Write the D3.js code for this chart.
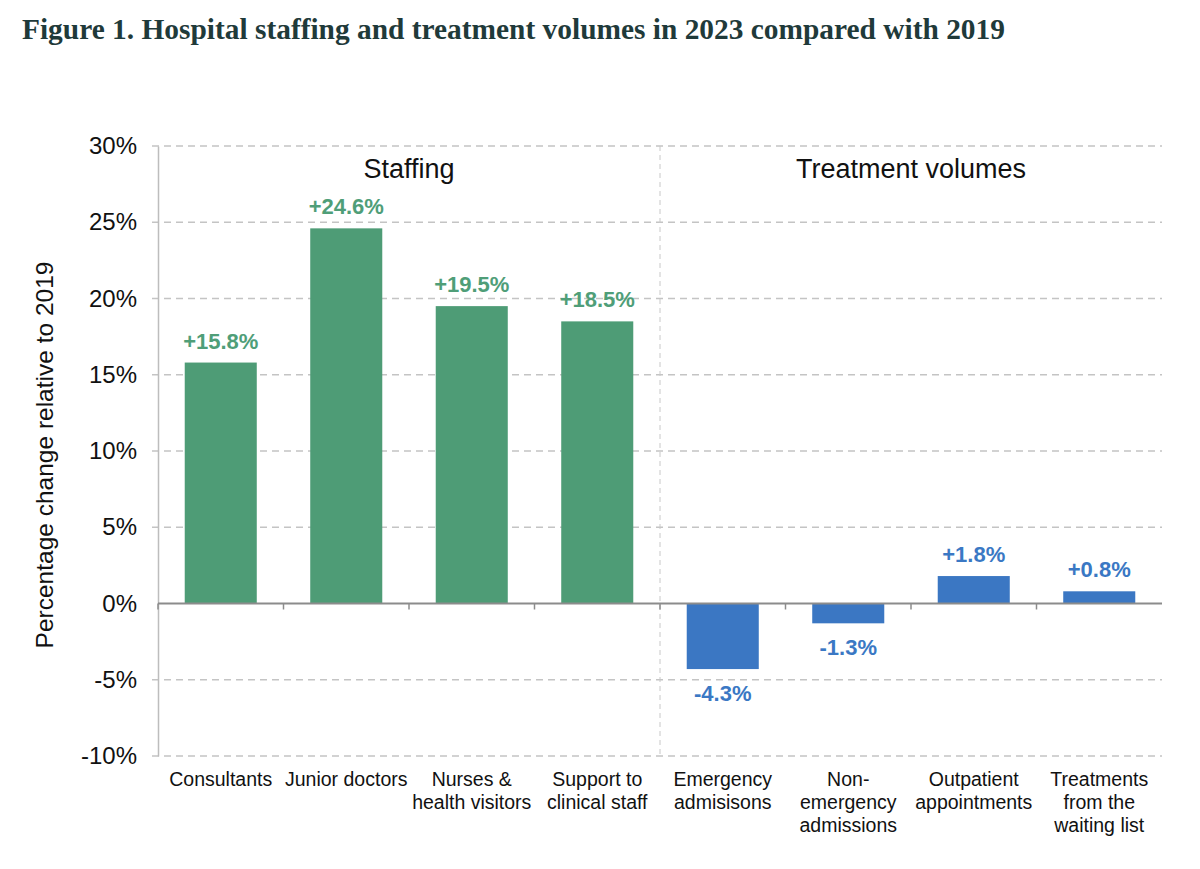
<!DOCTYPE html>
<html>
<head>
<meta charset="utf-8">
<script src="https://cdn.jsdelivr.net/npm/d3@7"></script>
<style>
  body { margin: 0; background: #fff; }
  svg { display: block; }
</style>
</head>
<body>
<svg id="chart"></svg>
<script>
// chart data
const categories = [
    ["Consultants"],
    ["Junior doctors"],
    ["Nurses &", "health visitors"],
    ["Support to", "clinical staff"],
    ["Emergency", "admisisons"],
    ["Non-", "emergency", "admissions"],
    ["Outpatient", "appointments"],
    ["Treatments", "from the", "waiting list"]
];
const values = [15.8, 24.6, 19.5, 18.5, -4.3, -1.3, 1.8, 0.8];
const groups = ["Staffing", "Staffing", "Staffing", "Staffing",
                "Treatment volumes", "Treatment volumes", "Treatment volumes", "Treatment volumes"];
const yTicks = [30, 25, 20, 15, 10, 5, 0, -5, -10];

const width = 1200;
const height = 869;
const margin = { top: 146, right: 38, bottom: 113, left: 158 };

const barColor = { "Staffing": "#4e9c76", "Treatment volumes": "#3b77c3" };
const labelColor = { "Staffing": "#4f9e78", "Treatment volumes": "#3a78c4" };

const svg = d3.select("#chart")
    .attr("width", width)
    .attr("height", height);

// title
svg.append("text")
    .attr("x", 22)
    .attr("y", 39)
    .attr("font-family", "'Liberation Serif', 'Times New Roman', serif")
    .attr("font-weight", "bold")
    .attr("font-size", "29.4px")
    .attr("fill", "#1f3a3a")
    .text("Figure 1. Hospital staffing and treatment volumes in 2023 compared with 2019");

const keys = categories.map((c, i) => i);

const x = d3.scaleBand()
    .domain(keys)
    .range([margin.left, width - margin.right])
    .paddingInner(0.426)
    .paddingOuter(0.213);

const y = d3.scaleLinear()
    .domain([-10, 30])
    .range([height - margin.bottom, margin.top]);

const font = "'Liberation Sans', Arial, sans-serif";

// dashed gridlines
svg.append("g")
    .selectAll("line")
    .data(yTicks.filter(d => d !== 0))
    .join("line")
    .attr("x1", margin.left - 6)
    .attr("x2", width - margin.right)
    .attr("y1", d => y(d))
    .attr("y2", d => y(d))
    .attr("stroke", "#c4c4c4")
    .attr("stroke-width", 1.5)
    .attr("stroke-dasharray", "7,5");

// divider between the two groups
const step = x.step();
const divX = margin.left + step * 4;
svg.append("line")
    .attr("x1", divX)
    .attr("x2", divX)
    .attr("y1", y(30))
    .attr("y2", y(-10))
    .attr("stroke", "#c8c8c8")
    .attr("stroke-width", 1)
    .attr("stroke-dasharray", "5,4");

// group headers
const headers = ["Staffing", "Treatment volumes"];
svg.append("g")
    .selectAll("text")
    .data(headers)
    .join("text")
    .attr("x", (d, i) => margin.left + step * (2 + 4 * i))
    .attr("y", 178)
    .attr("text-anchor", "middle")
    .attr("font-family", font)
    .attr("font-size", "27px")
    .attr("fill", "#111")
    .text(d => d);

// bars
svg.append("g")
    .selectAll("rect")
    .data(values)
    .join("rect")
    .attr("x", (d, i) => x(i))
    .attr("width", x.bandwidth())
    .attr("y", d => y(Math.max(0, d)))
    .attr("height", d => Math.abs(y(d) - y(0)))
    .attr("fill", (d, i) => barColor[groups[i]]);

// value labels
svg.append("g")
    .selectAll("text")
    .data(values)
    .join("text")
    .attr("x", (d, i) => x(i) + x.bandwidth() / 2)
    .attr("y", d => d >= 0 ? y(d) - 14 : y(d) + 32)
    .attr("text-anchor", "middle")
    .attr("font-family", font)
    .attr("font-weight", "bold")
    .attr("font-size", "22px")
    .attr("fill", (d, i) => labelColor[groups[i]])
    .text(d => (d > 0 ? "+" : "") + d.toFixed(1) + "%");

// y axis
const yAxis = svg.append("g")
    .attr("transform", `translate(${margin.left},0)`)
    .call(d3.axisLeft(y).tickValues(yTicks).tickSize(0).tickPadding(21)
        .tickFormat(d => d + "%"));
yAxis.select(".domain").attr("stroke", "#bdbdbd").attr("stroke-width", 1.5);
yAxis.selectAll("text")
    .attr("font-family", font)
    .attr("font-size", "24px")
    .attr("fill", "#111");

// zero line with category ticks
svg.append("line")
    .attr("x1", margin.left)
    .attr("x2", width - margin.right)
    .attr("y1", y(0))
    .attr("y2", y(0))
    .attr("stroke", "#8c8c8c")
    .attr("stroke-width", 2);

svg.append("g")
    .selectAll("line")
    .data(d3.range(0, categories.length))
    .join("line")
    .attr("x1", i => margin.left + step * i)
    .attr("x2", i => margin.left + step * i)
    .attr("y1", y(0))
    .attr("y2", y(0) + 6)
    .attr("stroke", "#8c8c8c")
    .attr("stroke-width", 1.5);

// category labels
const catLabels = svg.append("g")
    .selectAll("text")
    .data(categories)
    .join("text")
    .attr("x", (d, i) => x(i) + x.bandwidth() / 2)
    .attr("y", 786)
    .attr("text-anchor", "middle")
    .attr("font-family", font)
    .attr("font-size", "19.5px")
    .attr("fill", "#111");

catLabels.selectAll("tspan")
    .data(d => d)
    .join("tspan")
    .attr("x", function () { return d3.select(this.parentNode).attr("x"); })
    .attr("dy", (d, i) => i === 0 ? 0 : 23)
    .text(d => d);

// y axis title
svg.append("text")
    .attr("transform", `translate(53,455) rotate(-90)`)
    .attr("text-anchor", "middle")
    .attr("font-family", font)
    .attr("font-size", "24.5px")
    .attr("fill", "#111")
    .text("Percentage change relative to 2019");
</script>
</body>
</html>
